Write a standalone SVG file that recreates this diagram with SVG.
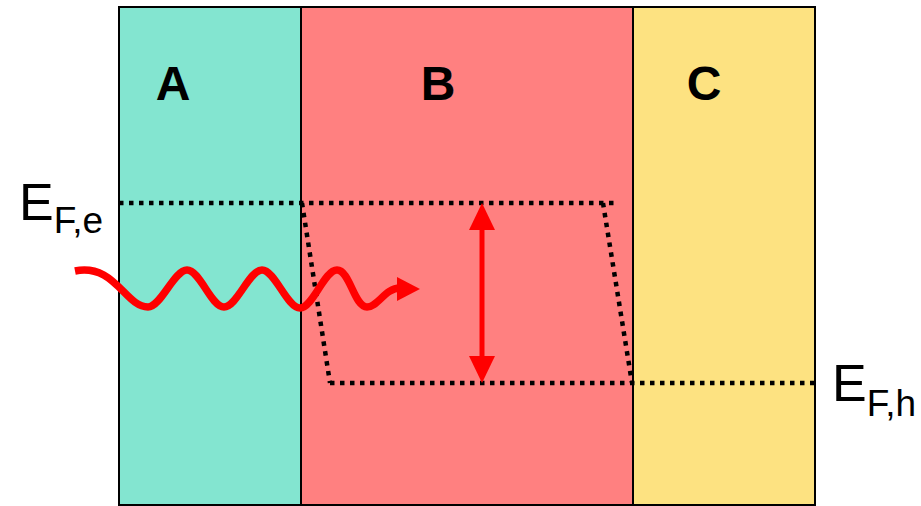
<svg xmlns="http://www.w3.org/2000/svg" width="921" height="506" viewBox="0 0 921 506">
<style>
.region{stroke:#000;stroke-width:2}
.lbl{font-family:"Liberation Sans",Arial,sans-serif;font-weight:bold;font-size:48px;fill:#000;text-anchor:middle}
.ef{font-family:"Liberation Sans",Arial,sans-serif;fill:#000}
.dot{fill:none;stroke:#000;stroke-width:4.5;stroke-dasharray:4.5 5.5}
.red{fill:none;stroke:#ff0000;stroke-width:7.5}
</style>
<rect width="921" height="506" fill="#fff"/>
<g id="region-A">
<rect class="region" x="119" y="7" width="182" height="498" fill="#83e5d0"/>
<text class="lbl" x="173" y="100">A</text>
</g>
<g id="region-B">
<rect class="region" x="301" y="7" width="332" height="498" fill="#ff8080"/>
<text class="lbl" x="438" y="100">B</text>
</g>
<g id="region-C">
<rect class="region" x="633" y="7" width="182" height="498" fill="#fde281"/>
<text class="lbl" x="704" y="100">C</text>
</g>
<g id="label-EFe">
<text class="ef" x="19" y="220" font-size="52">E<tspan font-size="37" dy="13">F,e</tspan></text>
</g>
<g id="label-EFh">
<text class="ef" x="832" y="401" font-size="52">E<tspan font-size="37" dy="15">F,h</tspan></text>
</g>
<g id="levels">
<path class="dot" d="M119,203 H615"/>
<path class="dot" d="M330,383 H815"/>
<path class="dot" d="M302,203 L330,383"/>
<path class="dot" d="M603,203 L632,383"/>
</g>
<g id="connectors">
<path class="red" d="M75,271 C115,263 125,307 148,307 C161,307 174,270 187,270 C200,270 211,307 224,307 C237,307 249,270 262,270 C275,270 287,308 300,308 C313,308 324,270 337,270 C350,270 354,307 367,307 C378,307 385,288 400,288"/>
<path d="M420,289 L397,277 L397,301 Z" fill="#ff0000"/>
<line x1="482" y1="228" x2="482" y2="358" stroke="#ff0000" stroke-width="5"/>
<path d="M482,203 L495,230 L469,230 Z" fill="#ff0000"/>
<path d="M482,383 L495,356 L469,356 Z" fill="#ff0000"/>
</g>
</svg>
